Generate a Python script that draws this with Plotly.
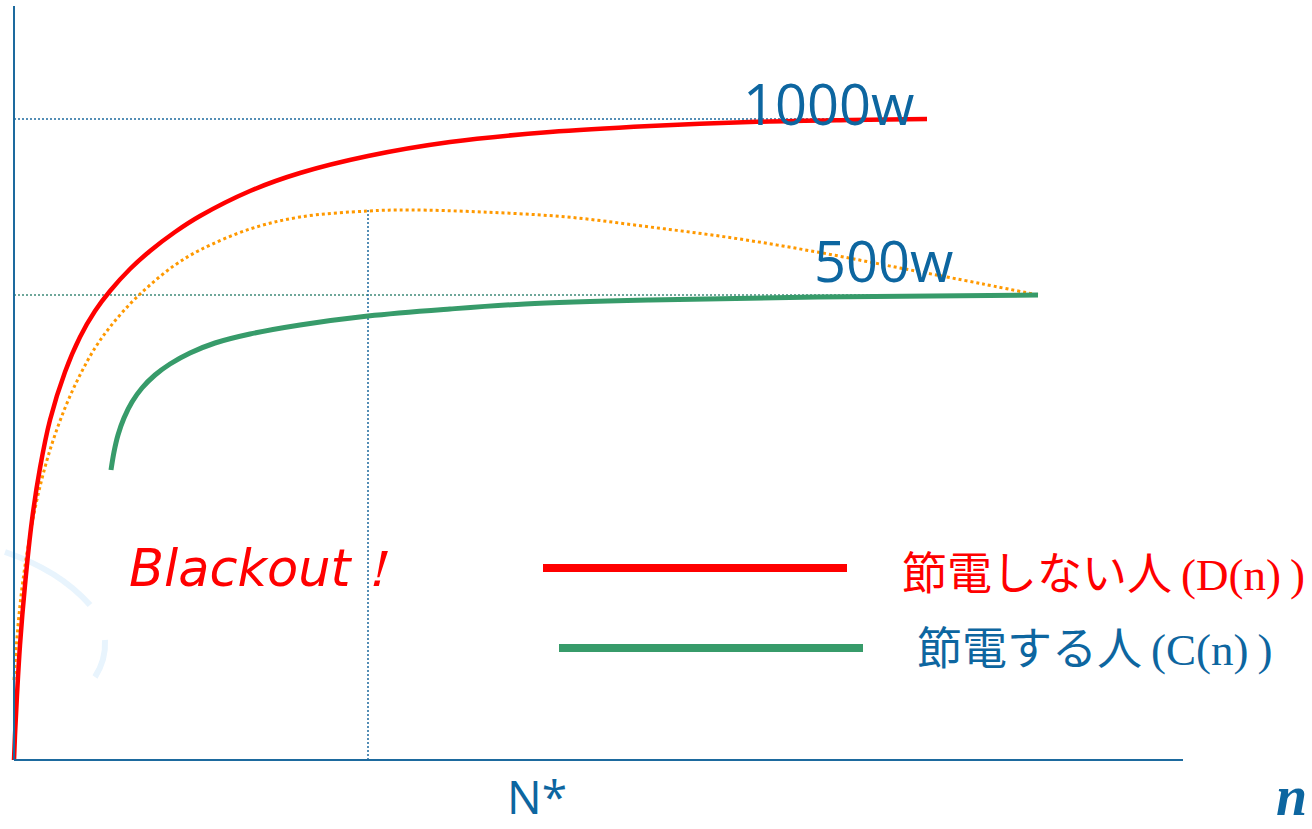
import plotly.graph_objects as go

# ---- data (n = number of people, arbitrary power units above the axis) ----
red_n = [0, 1, 3, 6, 11, 18, 26, 36, 51, 66, 81, 96, 116, 136, 161, 186, 236, 286, 354, 436, 536, 636, 736, 836, 913]
red_D = [0, 25, 65, 115, 175, 240, 292, 340, 388, 423, 449, 469, 491, 509, 528, 544, 569, 587, 604, 618, 628, 634, 638, 640, 641]

orange_n = [0, 2, 5, 9, 16, 24, 36, 51, 66, 81, 96, 116, 136, 161, 186, 236, 286, 354, 396, 469, 553, 636, 719, 803, 886, 969, 1024]
orange_v = [80, 110, 145, 180, 225, 265, 310, 352, 385, 412, 433, 456, 475, 495, 510, 531, 543, 549, 550, 548, 543, 533, 522, 508, 492, 476, 465]

green_n = [97, 100, 104, 110, 118, 128, 141, 156, 176, 201, 236, 286, 354, 436, 511, 636, 803, 1024]
green_C = [290, 308, 325, 342, 358, 372, 385, 396, 407, 417, 426, 435, 444, 451, 456, 460, 463, 465]

level_1000 = 641
level_500 = 465
n_star = 354
n_end_red = 913
n_end = 1024
x_axis_end = 1169
y_axis_top = 754

AXIS = "#1d6a9e"
TXT = "#0d66a0"
RED = "#ff0000"
GREEN = "#379b6a"
ORANGE = "#ff9900"

fig = go.Figure()

# reference dotted lines
fig.add_trace(go.Scatter(x=[0, n_end_red], y=[level_1000, level_1000], mode="lines",
                         line=dict(color=AXIS, width=1.5, dash="2px,2px"), hoverinfo="skip"))
fig.add_trace(go.Scatter(x=[0, n_end], y=[level_500, level_500], mode="lines",
                         line=dict(color="#3f8a7a", width=1.5, dash="2px,2px"), hoverinfo="skip"))
fig.add_trace(go.Scatter(x=[n_star, n_star], y=[0, max(orange_v)], mode="lines",
                         line=dict(color=AXIS, width=1.5, dash="2px,2px"), hoverinfo="skip"))

# curves
fig.add_trace(go.Scatter(x=orange_n, y=orange_v, mode="lines", line_shape="spline",
                         line=dict(color=ORANGE, width=3, dash="dot"), hoverinfo="skip"))
fig.add_trace(go.Scatter(x=red_n, y=red_D, mode="lines", line_shape="spline",
                         line=dict(color=RED, width=4.5), hoverinfo="skip"))
fig.add_trace(go.Scatter(x=green_n, y=green_C, mode="lines", line_shape="spline",
                         line=dict(color=GREEN, width=5), hoverinfo="skip"))

# legend sample lines
fig.add_trace(go.Scatter(x=[529, 833], y=[192, 192], mode="lines",
                         line=dict(color=RED, width=8), hoverinfo="skip"))
fig.add_trace(go.Scatter(x=[545, 849], y=[112, 112], mode="lines",
                         line=dict(color=GREEN, width=8), hoverinfo="skip"))

shapes = [
    dict(type="line", x0=0, x1=0, y0=0, y1=y_axis_top, line=dict(color=AXIS, width=2)),
    dict(type="line", x0=0, x1=x_axis_end, y0=0, y1=0, line=dict(color=AXIS, width=2)),
    dict(type="path", path="M -9 208 Q 45 190 76 155", line=dict(color="#e8f4fd", width=6), layer="below"),
    dict(type="path", path="M 91 120 Q 92 100 81 83", line=dict(color="#e8f4fd", width=6), layer="below"),
]

ann = []
def add(text, x, y, size, color, family, xanchor="center", italic=False):
    ann.append(dict(text=text, x=x, y=y, xref="x", yref="y", showarrow=False,
                    xanchor=xanchor, yanchor="middle",
                    font=dict(size=size, color=color, family=family,
                              style="italic" if italic else "normal")))

add("1000w", 814, 657, 56, TXT, "Open Sans")
add("500w", 869, 500, 56, TXT, "Open Sans")
add("N*", 523, -36, 46, TXT, "Open Sans")
add("<b>n</b>", 1277, -36, 56, TXT, "Liberation Serif", italic=True)
add("Blackout！", 113, 192, 51, RED, "DejaVu Sans", xanchor="left", italic=True)
add("節電しない人<span style='font-family:Liberation Serif'>\u2009(D(n)\u2009)</span>", 886, 190, 45, RED,
    "Noto Sans CJK JP", xanchor="left")
add("節電する人<span style='font-family:Liberation Serif'>\u2009(C(n)\u2009)</span>", 901, 115, 45, TXT,
    "Noto Sans CJK JP", xanchor="left")

fig.update_layout(
    width=1312, height=829,
    margin=dict(l=0, r=0, t=0, b=0),
    paper_bgcolor="white", plot_bgcolor="white",
    showlegend=False,
    xaxis=dict(range=[-14, 1298], visible=False, fixedrange=True),
    yaxis=dict(range=[-69, 760], visible=False, fixedrange=True),
    shapes=shapes, annotations=ann,
)

fig.write_html("out.html")
